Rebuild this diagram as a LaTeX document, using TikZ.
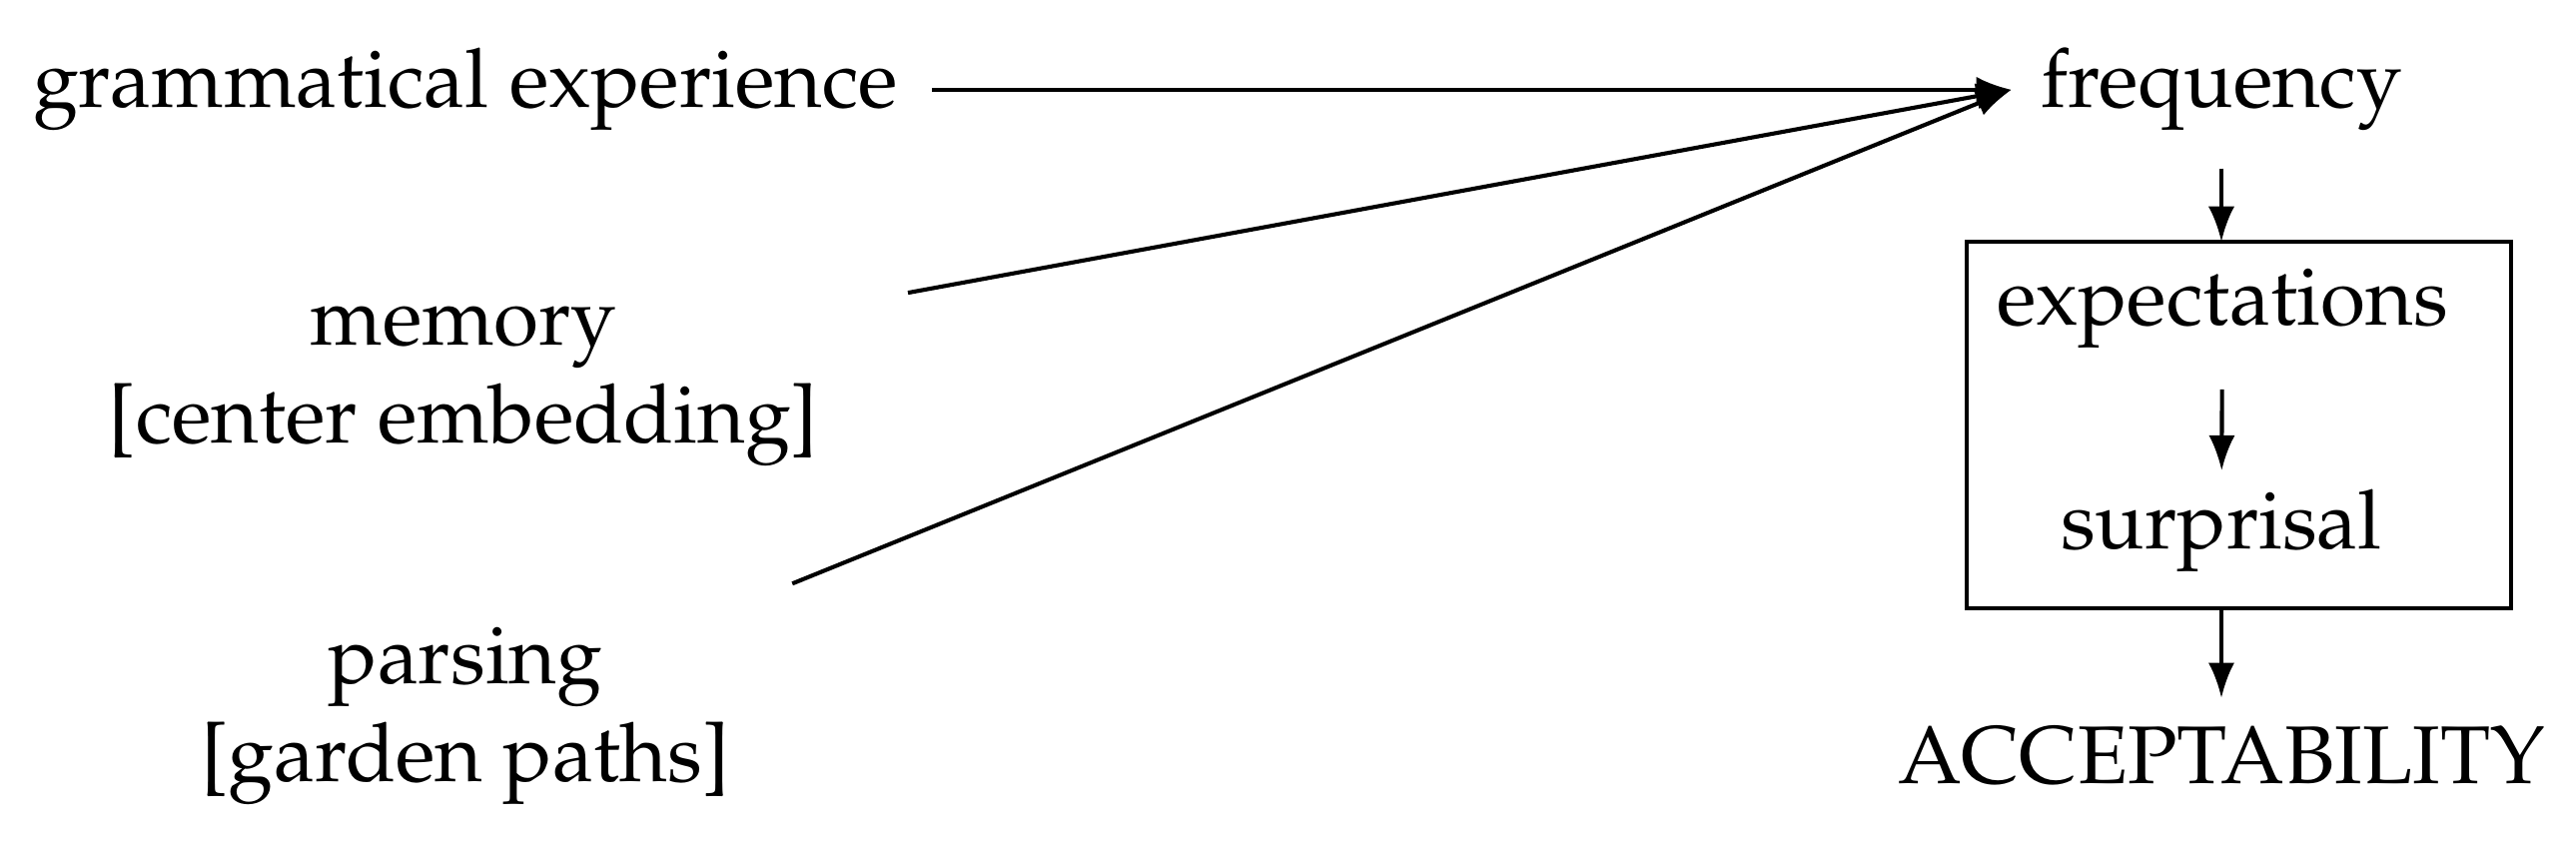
\documentclass[tikz,border=0pt]{standalone}
\usepackage[T1]{fontenc}
\usepackage{mathpazo}
\usepackage{tikz}
\usetikzlibrary{arrows.meta,calc}

\begin{document}
\begin{tikzpicture}[x=0.122pt, y=-0.122pt, line width=0.5pt, >={Latex[length=4.3pt,width=3.2pt]}]
\useasboundingbox (0,0) rectangle (2579,848);
\node[anchor=base] (gram) at (466,108) {grammatical experience};
\node[anchor=base] (freq) at (2224,108) {frequency};
\node[align=center] (mem) at (464,386) {memory\\{[center embedding]}};
\node[align=center] (pars) at (466,717) {parsing\\{[garden paths]}};
\node[anchor=base] (exp) at (2225,326) {expectations};
\node[anchor=base] (sur) at (2224,550) {surprisal};
\node[anchor=base] (acc) at (2224,785) {ACCEPTABILITY};
\coordinate (boxnw) at (1969,242);
\coordinate (boxse) at (2514,609);
\draw (boxnw) rectangle (boxse);
\draw[->, shorten <= 0.6pt] (gram) -- (freq);
\draw[->, shorten <= 7.5pt] (mem.12) -- (freq.west);
\draw[->, shorten <= 4.6pt] (pars) -- (freq.west);
\draw[->, shorten <= 1pt] (freq) -- (freq |- boxnw);
\draw[->, shorten <= 1.4pt, shorten >= -1.2pt] (exp) -- (sur);
\draw[->] (acc |- boxse) -- (acc);
\end{tikzpicture}
\end{document}
